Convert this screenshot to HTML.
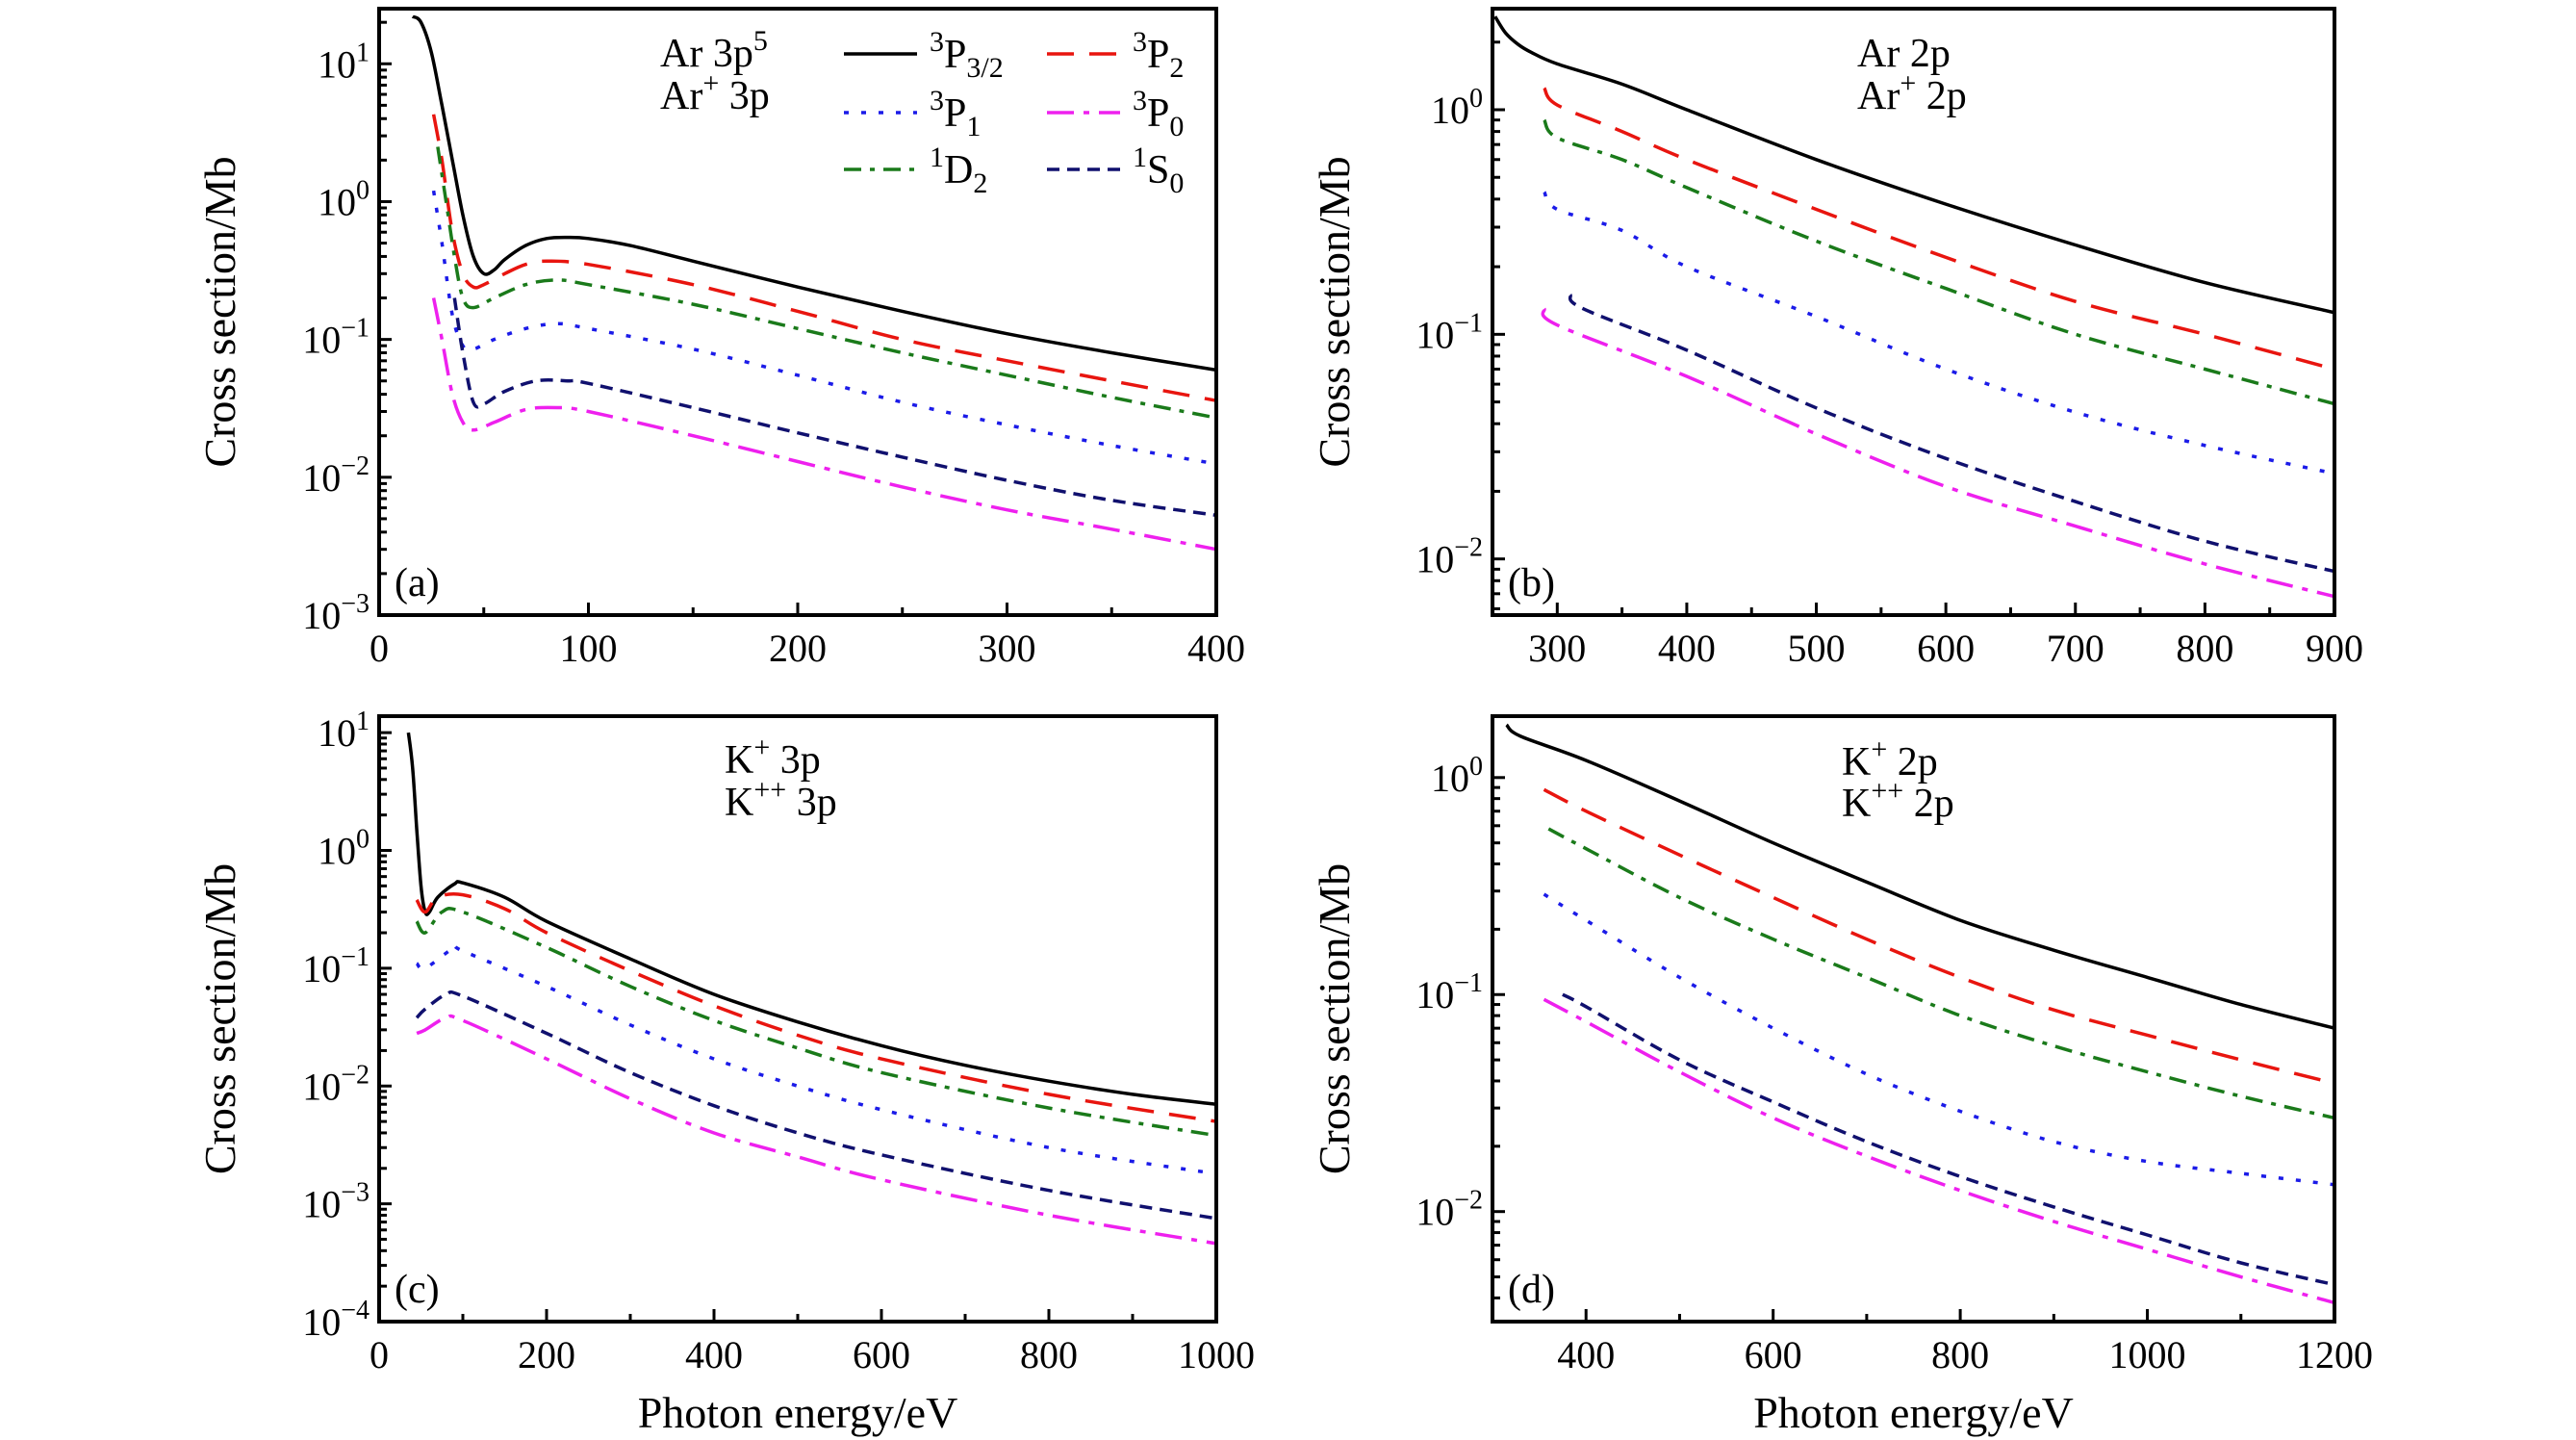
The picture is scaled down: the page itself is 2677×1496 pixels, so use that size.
<!DOCTYPE html>
<html><head><meta charset="utf-8"><title>Photoionization cross sections</title>
<style>
html,body{margin:0;padding:0;background:#fff;}
svg{display:block;font-family:"Liberation Serif",serif;}
</style></head>
<body>
<svg id="fig" width="2677" height="1496" viewBox="0 0 2677 1496" xmlns="http://www.w3.org/2000/svg"></svg>
<script>
// ---------- Panel (a) data: Ar 3p ----------
const aBlackX=[16,20,25,30,35,40,45,50,55,60,70,80,90,100,120,150,200,250,300,350,400];
const aBlackY=[22,20,12,5,2,0.8,0.4,0.3,0.32,0.38,0.48,0.54,0.55,0.54,0.48,0.37,0.24,0.16,0.11,0.08,0.06];
const aRedX=[26,30,35,40,45,50,60,70,80,100,150,200,250,300,350,400];
const aRedY=[4.3,2,0.6,0.3,0.24,0.25,0.3,0.35,0.37,0.35,0.25,0.16,0.1,0.07,0.05,0.036];
const aGreenX=[28,32,36,40,45,55,70,85,100,150,200,250,300,350,400];
const aGreenY=[2.5,1,0.4,0.2,0.17,0.2,0.25,0.27,0.25,0.18,0.12,0.08,0.055,0.038,0.027];
const aBlueX=[26,30,35,40,45,55,70,85,100,150,200,250,300,350,400];
const aBlueY=[1.2,0.5,0.15,0.09,0.085,0.1,0.12,0.13,0.12,0.085,0.055,0.035,0.024,0.017,0.0125];
const aNavyX=[36,40,45,50,60,75,90,100,150,200,250,300,350,400];
const aNavyY=[0.2,0.08,0.035,0.034,0.042,0.05,0.05,0.048,0.032,0.021,0.014,0.0095,0.0068,0.0053];
const aMagX=[26,30,35,40,45,55,70,85,100,150,200,250,300,350,400];
const aMagY=[0.2,0.1,0.04,0.025,0.022,0.025,0.031,0.032,0.03,0.02,0.013,0.0085,0.0058,0.0042,0.003];
// ---------- Panel (b) data: Ar 2p ----------
const bBlackX=[252,260,270,280,300,350,400,500,600,700,800,900];
const bBlackY=[2.6,2.2,1.95,1.8,1.6,1.3,1.0,0.6,0.38,0.25,0.17,0.125];
const bRedX=[290,300,350,400,500,600,700,800,900];
const bRedY=[1.25,1.05,0.8,0.6,0.36,0.22,0.14,0.1,0.07];
const bGreenX=[290,300,350,400,500,600,700,800,900];
const bGreenY=[0.9,0.75,0.6,0.45,0.26,0.16,0.1,0.07,0.049];
const bBlueX=[290,300,350,400,500,600,700,800,900];
const bBlueY=[0.43,0.36,0.29,0.2,0.12,0.07,0.045,0.032,0.024];
const bNavyX=[310,320,400,500,600,700,800,900];
const bNavyY=[0.15,0.13,0.085,0.047,0.028,0.018,0.012,0.0088];
const bMagX=[290,300,400,500,600,700,800,900];
const bMagY=[0.13,0.11,0.065,0.036,0.021,0.014,0.0095,0.0068];
// ---------- Panel (c) data: K+ 3p ----------
const cBlackX=[35,40,45,50,55,60,70,90,100,150,200,300,400,500,600,700,800,900,1000];
const cBlackY=[10,5,1.5,0.5,0.3,0.3,0.4,0.52,0.53,0.4,0.25,0.12,0.06,0.035,0.022,0.015,0.011,0.0085,0.007];
const cRedX=[45,55,70,100,150,200,300,400,500,600,800,1000];
const cRedY=[0.38,0.3,0.4,0.42,0.32,0.2,0.095,0.048,0.027,0.017,0.0085,0.005];
const cGreenX=[45,55,75,100,200,300,400,500,600,800,1000];
const cGreenY=[0.25,0.2,0.3,0.3,0.15,0.07,0.036,0.021,0.013,0.0065,0.0038];
const cBlueX=[45,55,90,100,200,300,400,500,600,800,1000];
const cBlueY=[0.11,0.1,0.15,0.14,0.07,0.033,0.017,0.01,0.0063,0.003,0.0018];
const cNavyX=[45,55,80,100,200,300,400,500,600,800,1000];
const cNavyY=[0.038,0.045,0.06,0.058,0.028,0.013,0.0068,0.004,0.0026,0.0013,0.00075];
const cMagX=[45,55,80,100,200,300,400,500,600,800,1000];
const cMagY=[0.028,0.03,0.038,0.036,0.017,0.0078,0.004,0.0025,0.0016,0.0008,0.00046];
// ---------- Panel (d) data: K+ 2p ----------
const dBlackX=[315,330,400,500,600,700,800,900,1000,1100,1200];
const dBlackY=[1.75,1.55,1.2,0.78,0.5,0.33,0.22,0.16,0.12,0.09,0.07];
const dRedX=[355,400,500,600,700,800,900,1000,1100,1200];
const dRedY=[0.88,0.7,0.44,0.28,0.18,0.12,0.085,0.065,0.05,0.039];
const dGreenX=[360,400,500,600,700,800,900,1000,1100,1200];
const dGreenY=[0.58,0.47,0.28,0.18,0.12,0.08,0.058,0.044,0.034,0.027];
const dBlueX=[355,400,500,600,700,800,900,1000,1100,1200];
const dBlueY=[0.29,0.22,0.12,0.07,0.043,0.029,0.021,0.017,0.015,0.0133];
const dNavyX=[375,400,500,600,700,800,900,1000,1100,1200];
const dNavyY=[0.1,0.088,0.05,0.032,0.021,0.0145,0.0105,0.0078,0.0058,0.0046];
const dMagX=[355,400,500,600,700,800,900,1000,1100,1200];
const dMagY=[0.095,0.075,0.044,0.027,0.018,0.0125,0.009,0.0067,0.005,0.0038];
// ---------- tick labels ----------
const aXTicks=[0,100,200,300,400];
const bXTicks=[300,400,500,600,700,800,900];
const cXTicks=[0,200,400,600,800,1000];
const dXTicks=[400,600,800,1000,1200];
const aYExp=[1,0,-1,-2,-3];
const bYExp=[0,-1,-2];
const cYExp=[1,0,-1,-2,-3,-4];
const dYExp=[0,-1,-2];

const NS="http://www.w3.org/2000/svg";
const svg=document.getElementById('fig');
function mk(tag,attrs,parent){const e=document.createElementNS(NS,tag);for(const k in attrs)e.setAttribute(k,attrs[k]);(parent||svg).appendChild(e);return e;}

const styles={
 black:{c:'#000',d:''},
 red:{c:'#e8150f',d:'28 16'},
 blue:{c:'#1b1be8',d:'5 13'},
 magenta:{c:'#ee20ee',d:'28 10 6 10'},
 green:{c:'#1a7a1a',d:'18 9 5 9'},
 navy:{c:'#10106e',d:'13 8'}
};

function smoothPath(P){
 let d='M'+P[0][0].toFixed(1)+','+P[0][1].toFixed(1);
 for(let i=0;i<P.length-1;i++){
  const p0=P[Math.max(0,i-1)],p1=P[i],p2=P[i+1],p3=P[Math.min(P.length-1,i+2)];
  const t=1/6;
  const c1x=p1[0]+(p2[0]-p0[0])*t,c1y=p1[1]+(p2[1]-p0[1])*t;
  const c2x=p2[0]-(p3[0]-p1[0])*t,c2y=p2[1]-(p3[1]-p1[1])*t;
  d+=' C'+c1x.toFixed(1)+','+c1y.toFixed(1)+' '+c2x.toFixed(1)+','+c2y.toFixed(1)+' '+p2[0].toFixed(1)+','+p2[1].toFixed(1);
 }
 return d;
}

function panel(p){
 const g=mk('g',{});
 
 
 const xs=v=>p.L+(v-p.x0)/(p.x1-p.x0)*(p.R-p.L);
 const ys=v=>p.B-(Math.log10(v)-p.ly0)/(p.ly1-p.ly0)*(p.B-p.T);
 p.series.forEach(s=>{
  const st=styles[s.style];
  const P=s.x.map((x,i)=>[xs(x),ys(s.y[i])]);
  const pl=mk('path',{d:smoothPath(P),fill:'none',stroke:st.c,'stroke-width':3.5,'stroke-dasharray':st.d,'stroke-linejoin':'round'},g);
  
  
 });
 const fr=mk('rect',{x:p.L,y:p.T,width:p.R-p.L,height:p.B-p.T,fill:'none',stroke:'#000','stroke-width':4},g);
 
 
 const xg=mk('g',{},g);
 
 
 for(let v=Math.ceil(p.x0/p.minor)*p.minor;v<=p.x1+1e-9;v+=p.minor){
  const major=p.xt.indexOf(v)>=0;
  mk('line',{x1:xs(v),x2:xs(v),y1:p.B,y2:p.B-(major?13:8),stroke:'#000','stroke-width':3},xg);
 }
 p.xt.forEach(v=>{
  const t=mk('text',{x:xs(v),y:p.B+48,'font-size':40,'text-anchor':'middle'},xg);
  t.textContent=v;
  
  
 });
 const yg=mk('g',{},g);
 
 
 for(let e=Math.floor(p.ly0);e<=Math.ceil(p.ly1);e++){
  for(let m=1;m<10;m++){
   const lv=e+Math.log10(m);
   if(lv<p.ly0-1e-9||lv>p.ly1+1e-9)continue;
   const y=p.B-(lv-p.ly0)/(p.ly1-p.ly0)*(p.B-p.T);
   mk('line',{x1:p.L,x2:p.L+(m===1?13:8),y1:y,y2:y,stroke:'#000','stroke-width':3},yg);
  }
 }
 p.ye.forEach(e=>{
  const y=ys(Math.pow(10,e));
  const t=mk('text',{x:p.L-10,y:y+14,'font-size':40,'text-anchor':'end'},yg);
  t.innerHTML='10<tspan font-size="28" dy="-17">'+(e<0?'\u2212'+(-e):e)+'</tspan>';
  
  
 });
 const yt=mk('text',{x:0,y:0,'font-size':46,'text-anchor':'middle',transform:'translate('+p.ytx+','+((p.T+p.B)/2)+') rotate(-90)'},g);
 yt.textContent='Cross section/Mb';
 
 
 if(p.xtitle){
  const xt=mk('text',{x:(p.L+p.R)/2,y:p.B+110,'font-size':46,'text-anchor':'middle'},g);
  xt.textContent='Photon energy/eV';
  
  
 }
 const lb=mk('text',{x:p.L+16,y:p.B-20,'font-size':42},g);
 lb.textContent='('+p.id+')';
 
 
 p.notes.forEach(n=>{
  const t=mk('text',{x:n.x,y:n.y,'font-size':42},g);
  t.innerHTML=n.h;
  
  
 });
}
const S={a:[[aBlackX,aBlackY],[aRedX,aRedY],[aGreenX,aGreenY],[aBlueX,aBlueY],[aNavyX,aNavyY],[aMagX,aMagY]],
 b:[[bBlackX,bBlackY],[bRedX,bRedY],[bGreenX,bGreenY],[bBlueX,bBlueY],[bNavyX,bNavyY],[bMagX,bMagY]],
 c:[[cBlackX,cBlackY],[cRedX,cRedY],[cGreenX,cGreenY],[cBlueX,cBlueY],[cNavyX,cNavyY],[cMagX,cMagY]],
 d:[[dBlackX,dBlackY],[dRedX,dRedY],[dGreenX,dGreenY],[dBlueX,dBlueY],[dNavyX,dNavyY],[dMagX,dMagY]]};
const names=[['3P3/2','black'],['3P2','red'],['1D2','green'],['3P1','blue'],['1S0','navy'],['3P0','magenta']];
function mkSeries(k){return S[k].map((xy,i)=>({name:names[i][0],style:names[i][1],x:xy[0],y:xy[1]}));}
const SP='<tspan font-size="30" dy="-17">';
panel({id:'a',L:394,R:1264,T:9,B:639,x0:0,x1:400,ly0:-3,ly1:1.40,minor:50,xt:aXTicks,ye:aYExp,ytx:244,xtitle:false,series:mkSeries('a'),
 notes:[{x:686,y:69,h:'Ar 3p'+SP+'5</tspan>'},{x:686,y:113,h:'Ar'+SP+'+</tspan><tspan dy="17"> 3p</tspan>'}]});
panel({id:'b',L:1551,R:2426,T:9,B:639,x0:250,x1:900,ly0:-2.25,ly1:0.45,minor:50,xt:bXTicks,ye:bYExp,ytx:1402,xtitle:false,series:mkSeries('b'),
 notes:[{x:1930,y:69,h:'Ar 2p'},{x:1930,y:113,h:'Ar'+SP+'+</tspan><tspan dy="17"> 2p</tspan>'}]});
panel({id:'c',L:394,R:1264,T:744,B:1373,x0:0,x1:1000,ly0:-4,ly1:1.14,minor:100,xt:cXTicks,ye:cYExp,ytx:244,xtitle:true,series:mkSeries('c'),
 notes:[{x:753,y:803,h:'K'+SP+'+</tspan><tspan dy="17"> 3p</tspan>'},{x:753,y:847,h:'K'+SP+'++</tspan><tspan dy="17"> 3p</tspan>'}]});
panel({id:'d',L:1551,R:2426,T:744,B:1373,x0:300,x1:1200,ly0:-2.507,ly1:0.283,minor:100,xt:dXTicks,ye:dYExp,ytx:1402,xtitle:true,series:mkSeries('d'),
 notes:[{x:1914,y:805,h:'K'+SP+'+</tspan><tspan dy="17"> 2p</tspan>'},{x:1914,y:848,h:'K'+SP+'++</tspan><tspan dy="17"> 2p</tspan>'}]});

const leg=mk('g',{});


const legItems=[
 {style:'black',col:0,row:0,h:SP+'3</tspan><tspan dy="17">P</tspan><tspan font-size="30" dy="10">3/2</tspan>'},
 {style:'red',col:1,row:0,h:SP+'3</tspan><tspan dy="17">P</tspan><tspan font-size="30" dy="10">2</tspan>'},
 {style:'blue',col:0,row:1,h:SP+'3</tspan><tspan dy="17">P</tspan><tspan font-size="30" dy="10">1</tspan>'},
 {style:'magenta',col:1,row:1,h:SP+'3</tspan><tspan dy="17">P</tspan><tspan font-size="30" dy="10">0</tspan>'},
 {style:'green',col:0,row:2,h:SP+'1</tspan><tspan dy="17">D</tspan><tspan font-size="30" dy="10">2</tspan>'},
 {style:'navy',col:1,row:2,h:SP+'1</tspan><tspan dy="17">S</tspan><tspan font-size="30" dy="10">0</tspan>'}
];
const colX=[877,1088],rowY=[56,117,176];
legItems.forEach(it=>{
 const st=styles[it.style];
 const e=mk('g',{},leg);
 
 
 mk('line',{x1:colX[it.col],x2:colX[it.col]+76,y1:rowY[it.row],y2:rowY[it.row],stroke:st.c,'stroke-width':3.5,'stroke-dasharray':st.d},e);
 const t=mk('text',{x:colX[it.col]+89,y:rowY[it.row]+14,'font-size':42},e);
 t.innerHTML=it.h;
});
</script>
</body></html>
